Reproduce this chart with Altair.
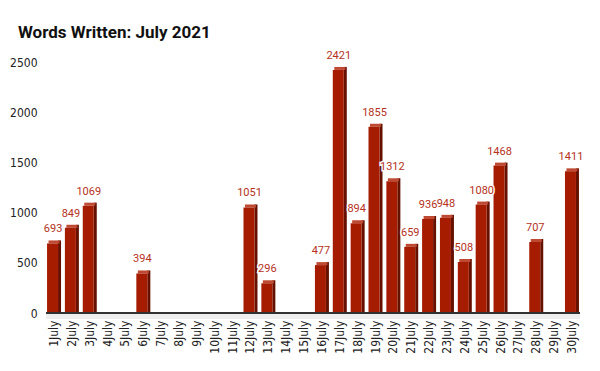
import altair as alt
import pandas as pd

days = [f"{i}July" for i in range(1, 31)]
words = [693, 849, 1069, 0, 0, 394, 0, 0, 0, 0, 0, 1051, 296, 0, 0, 477,
         2421, 894, 1855, 1312, 659, 936, 948, 508, 1080, 1468, 0, 707, 0, 1411]
y_ticks = [0, 500, 1000, 1500, 2000, 2500]

df = pd.DataFrame({"day": days, "words": words})

FRONT = "#a61c00"
SIDE = "#661100"
TOP = "#bf4a33"
NARROW = "Liberation Sans Narrow, DejaVu Sans Condensed, sans-serif"

x = alt.X("day:N", sort=days, scale=alt.Scale(domain=days, paddingInner=0.3, paddingOuter=0.1),
          axis=alt.Axis(title=None, labelAngle=-90, labelAlign="right", labelBaseline="middle",
                        labelFont=NARROW, labelFontSize=12, labelColor="#222222",
                        labelPadding=7, ticks=False, domain=False, grid=False))
y = alt.Y("words:Q", scale=alt.Scale(domain=[0, 2500], nice=False),
          axis=alt.Axis(title=None, values=y_ticks, format="d", labelFont=NARROW, labelFontSize=12,
                        labelColor="#222222", labelPadding=9, ticks=False, domain=False,
                        gridColor="#cccccc", gridWidth=1))

base = alt.Chart(df)
nz = base.transform_filter("datum.words > 0")

floor = base.mark_rule(color="#eeeeee", strokeWidth=5, yOffset=3).encode(y=alt.datum(0))
zero = base.mark_rule(color="#333333", strokeWidth=1).encode(y=alt.datum(0))

side = nz.mark_bar(color=SIDE, width=3, xOffset=5.5, yOffset=-3, y2Offset=0).encode(
    x=x, y=y, y2=alt.datum(0))
top = nz.mark_bar(color=TOP, width=11, xOffset=0, yOffset=-3, y2Offset=0).encode(
    x=x, y=y, y2="words:Q")
front = nz.mark_bar(color=FRONT, width=11, xOffset=-1.5).encode(x=x, y=y)

halo = nz.mark_text(font="Roboto", fontSize=11, dy=-14, dx=-1, stroke="white", strokeWidth=3,
                    color="white").encode(x=x, y=y, text="words:Q")
labels = nz.mark_text(font="Roboto", fontSize=11, dy=-14, dx=-1, color="#b5321c").encode(
    x=x, y=y, text="words:Q")

chart = alt.layer(floor, side, top, front, zero, halo, labels).properties(
    width=534, height=251,
    autosize=alt.AutoSizeParams(type="none"),
    padding={"left": 38, "top": 54, "right": 12, "bottom": 50},
    title=alt.TitleParams("Words Written: July 2021", anchor="start", frame="group",
                          font="Roboto", fontSize=17, fontWeight="bold", color="#111111",
                          dx=-28, offset=8),
).configure_view(stroke=None)

chart.save("out.html", embed_options={"renderer": "svg", "actions": False})
